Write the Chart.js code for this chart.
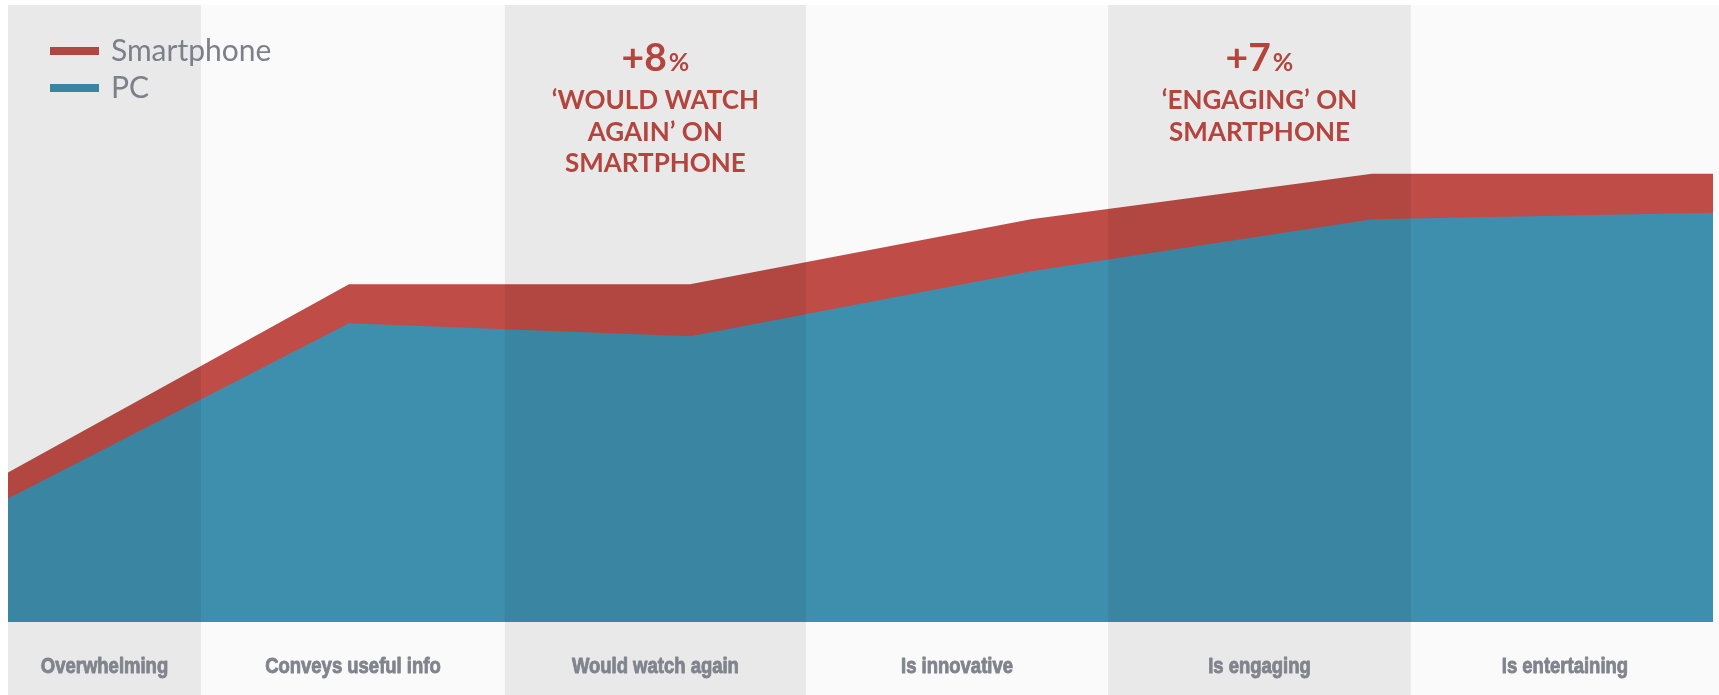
<!DOCTYPE html>
<html>
<head>
<meta charset="utf-8">
<script src="https://cdn.jsdelivr.net/npm/chart.js@4"></script>
<style>
  html, body { margin: 0; padding: 0; background: #ffffff; }
  #wrap { width: 1719px; height: 695px; position: relative; }
</style>
</head>
<body>
<div id="wrap"><canvas id="c" width="1719" height="695"></canvas></div>
<script>
// Video attributes, share of viewers agreeing (%)
const categories = ['Overwhelming', 'Conveys useful info', 'Would watch again', 'Is innovative', 'Is engaging', 'Is entertaining'];
const smartphone = [23, 52, 52, 62, 69, 69];
const pc = [19, 46, 44, 54, 62, 63];

// Column bands under the axis labels (edges in category units)
const bandEdges = [0, 0.566, 1.457, 2.34, 3.226, 4.114, 5.03];
const bandLabels = ['Overwhelming', 'Conveys useful info', 'Would watch again', 'Is innovative', 'Is engaging', 'Is entertaining'];

// Callouts: band index, headline number, text lines
const callouts = [
  { band: 2, value: '+8', lines: ['\u2018WOULD WATCH', 'AGAIN\u2019 ON', 'SMARTPHONE'] },
  { band: 4, value: '+7', lines: ['\u2018ENGAGING\u2019 ON', 'SMARTPHONE'] }
];

const RED = '#bf4c46';
const BLUE = '#3e8fae';

const decor = {
  id: 'decor',
  beforeDraw(chart) {
    const ctx = chart.ctx;
    ctx.save();
    ctx.fillStyle = '#ffffff';
    ctx.fillRect(0, 0, chart.width, chart.height);
    ctx.fillStyle = '#fafafa';
    ctx.fillRect(chart.chartArea.left, chart.chartArea.top, chart.width - chart.chartArea.left, chart.height - chart.chartArea.top);
    ctx.restore();
  },
  afterDatasetsDraw(chart) {
    const ctx = chart.ctx;
    const xs = chart.scales.x;
    const a = chart.chartArea;
    const p0 = xs.getPixelForValue(0), p1 = xs.getPixelForValue(1);
    const px = u => p0 + u * (p1 - p0);
    const edges = bandEdges.map(px);
    edges[0] = a.left;
    edges[edges.length - 1] = chart.width;

    // legend swatches (under the shading)
    const legend = [
      { label: chart.data.datasets[0].label, color: RED, y: 51 },
      { label: chart.data.datasets[1].label, color: BLUE, y: 88 }
    ];
    ctx.save();
    legend.forEach(it => {
      ctx.fillStyle = it.color;
      ctx.fillRect(50, it.y - 4, 49, 8);
    });

    // alternating shaded columns
    ctx.fillStyle = 'rgba(0,0,0,0.068)';
    for (let i = 0; i < edges.length - 1; i += 2) {
      ctx.fillRect(edges[i], a.top, edges[i + 1] - edges[i], chart.height - a.top);
    }

    // legend text
    ctx.fillStyle = '#7b808a';
    ctx.font = '30px Lato, "Open Sans", sans-serif';
    ctx.textBaseline = 'alphabetic';
    ctx.textAlign = 'left';
    ctx.fillText(legend[0].label, 111, 61);
    ctx.fillText(legend[1].label, 111, 98);

    // column labels, condensed bold
    ctx.fillStyle = '#80848d';
    ctx.strokeStyle = '#80848d';
    ctx.lineWidth = 0.9;
    ctx.lineJoin = 'round';
    ctx.font = 'bold 22px "Liberation Sans", Arial, sans-serif';
    ctx.textAlign = 'center';
    for (let i = 0; i < bandLabels.length; i++) {
      const cx = (edges[i] + edges[i + 1]) / 2;
      ctx.save();
      ctx.translate(cx, 673);
      ctx.scale(0.84, 1);
      ctx.fillText(bandLabels[i], 0, 0);
      ctx.strokeText(bandLabels[i], 0, 0);
      ctx.restore();
    }

    // callouts
    ctx.fillStyle = '#b3443e';
    callouts.forEach(c => {
      const cx = (edges[c.band] + edges[c.band + 1]) / 2;
      ctx.textAlign = 'left';
      const big = 'bold 39px Lato, "Open Sans", sans-serif';
      const small = 'bold 25px Lato, "Open Sans", sans-serif';
      ctx.font = big;
      const w1 = ctx.measureText(c.value).width;
      ctx.font = small;
      const w2 = ctx.measureText('%').width;
      const x0 = cx - (w1 + 2 + w2) / 2;
      ctx.font = big;
      ctx.fillText(c.value, x0, 71);
      ctx.font = small;
      ctx.fillText('%', x0 + w1 + 2, 71);
      ctx.textAlign = 'center';
      ctx.font = 'bold 26px Lato, "Open Sans", sans-serif';
      c.lines.forEach((ln, k) => {
        ctx.fillText(ln, cx, 109 + k * 31.5);
      });
    });
    ctx.restore();
  }
};

new Chart(document.getElementById('c'), {
  type: 'line',
  data: {
    labels: categories,
    datasets: [
      { label: 'Smartphone', data: smartphone, backgroundColor: RED, borderWidth: 0, fill: 'origin', order: 2 },
      { label: 'PC', data: pc, backgroundColor: BLUE, borderWidth: 0, fill: 'origin', order: 1 }
    ]
  },
  options: {
    responsive: false,
    animation: false,
    layout: { padding: { left: 8, right: 6, top: 5, bottom: 73 } },
    elements: { point: { radius: 0, hoverRadius: 0 }, line: { tension: 0 } },
    scales: {
      x: { type: 'category', display: false, offset: false },
      y: { display: false, min: 0, max: 95 }
    },
    plugins: { legend: { display: false }, tooltip: { enabled: false } }
  },
  plugins: [decor]
});
</script>
</body>
</html>
